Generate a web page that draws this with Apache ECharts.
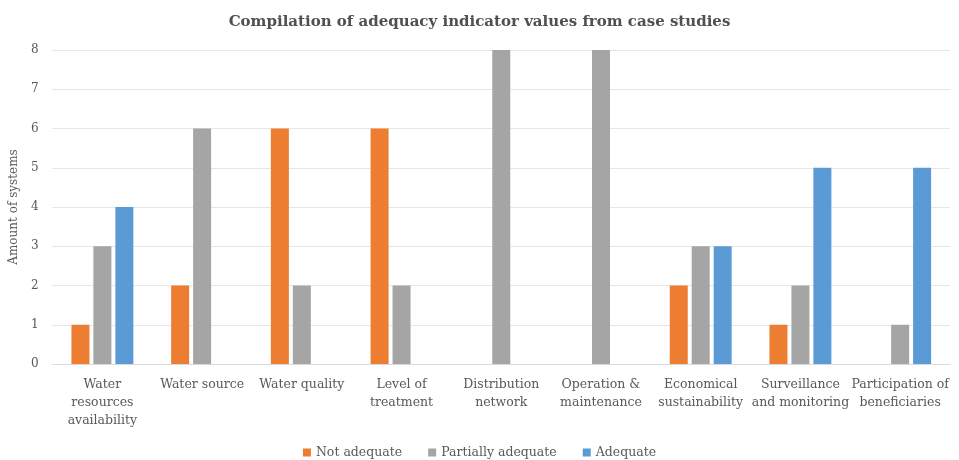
<!DOCTYPE html>
<html><head><meta charset="utf-8">
<script src="https://cdn.jsdelivr.net/npm/echarts@6/dist/echarts.min.js"></script>
<style>html,body{margin:0;padding:0;background:#fff}#c{width:959px;height:460px}</style>
</head><body><div id="c"></div>
<script>
const categories = ["Water\nresources\navailability","Water source","Water quality","Level of\ntreatment","Distribution\nnetwork","Operation &\nmaintenance","Economical\nsustainability","Surveillance\nand monitoring","Participation of\nbeneficiaries"];
const notAdequate = [1,2,6,6,0,0,2,1,0];
const partiallyAdequate = [3,6,2,2,8,8,3,2,1];
const adequate = [4,0,0,0,0,0,3,5,5];
const seriesNames = ["Not adequate","Partially adequate","Adequate"];
const yTicks = [0,1,2,3,4,5,6,7,8];

const font = "'DejaVu Serif', 'Liberation Serif', serif";
const chart = echarts.init(document.getElementById('c'));
const mk = (name, data, color) => ({
  name, type: 'bar', data: data.map(v => v === 0 ? null : v),
  barWidth: 18, barGap: '22%', itemStyle: {color}
});
chart.setOption({
  animation: false,
  title: {text: 'Compilation of adequacy indicator values from case studies', left: 'center', top: 10,
    textStyle: {fontFamily: font, fontSize: 15, fontWeight: 'bold', color: '#505050'}},
  legend: {top: 441, left: 'center', itemWidth: 8, itemHeight: 8, itemGap: 26, icon: 'rect',
    textStyle: {fontFamily: font, fontSize: 12.5, color: '#595959'}},
  grid: {left: 50, right: 9, top: 50, bottom: 96},
  xAxis: {type: 'category', data: categories,
    axisLine: {lineStyle: {color: '#d9d9d9'}}, axisTick: {show: false},
    axisLabel: {interval: 0, fontFamily: font, fontSize: 12.5, color: '#595959', lineHeight: 18, margin: 12}},
  yAxis: {type: 'value', min: yTicks[0], max: yTicks[yTicks.length-1], interval: 1,
    name: 'Amount of systems', nameLocation: 'middle', nameGap: 32, nameRotate: 90,
    nameTextStyle: {fontFamily: font, fontSize: 12, color: '#595959'},
    axisLabel: {fontFamily: font, fontSize: 12, color: '#595959', margin: 14},
    splitLine: {lineStyle: {color: '#e6e6e6'}}, axisLine: {show: false}, axisTick: {show: false}},
  series: [mk(seriesNames[0], notAdequate, '#ED7D31'), mk(seriesNames[1], partiallyAdequate, '#A5A5A5'), mk(seriesNames[2], adequate, '#5B9BD5')]
});
</script></body></html>
